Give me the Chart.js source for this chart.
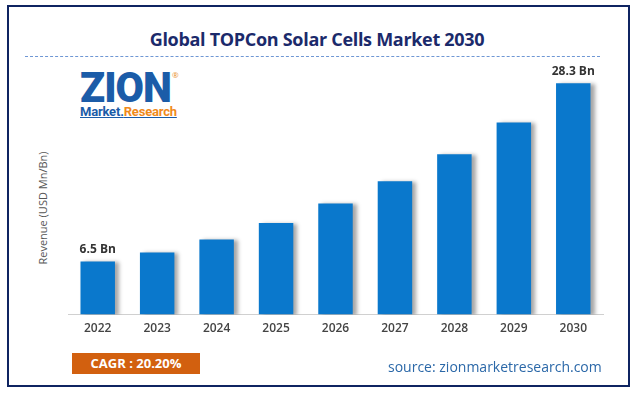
<!DOCTYPE html>
<html>
<head>
<meta charset="utf-8">
<script src="https://cdn.jsdelivr.net/npm/chart.js@4.4.1/dist/chart.umd.min.js"></script>
<style>
  html, body { margin:0; padding:0; background:#fff; }
  body { width:634px; height:394px; position:relative; overflow:hidden; font-family:"Open Sans", "Noto Sans", sans-serif; }
  #frame { position:absolute; left:7px; top:5px; width:619px; height:378px; border:2px solid #0f2461; box-sizing:content-box; }
  #title { position:absolute; left:0; width:634px; top:27px; text-align:center; font-weight:700; font-size:18px; color:#1b2a6b; letter-spacing:-0.3px; }
  #dash { position:absolute; left:25px; width:575px; top:56px; border-top:1.5px dashed #6f97d4; }
  #chartwrap { position:absolute; left:0; top:0; width:634px; height:394px; }
  #ytitle { position:absolute; left:42px; top:208px; transform:translate(-50%,-50%) rotate(-90deg); font-size:11px; color:#555; white-space:nowrap; }
  #cagr { position:absolute; left:72px; top:353px; width:128px; height:21px; background:#d2600f; color:#fff; font-weight:700; font-size:13px; line-height:21px; text-align:center; }
  #source { position:absolute; left:388px; top:357px; font-size:14px; color:#2b68a8; white-space:nowrap; transform-origin:left top; }
  #logo { position:absolute; left:80px; top:66px; }
  #zion { position:absolute; left:0; top:0; font-family:Roboto, sans-serif; font-weight:900; font-size:42px; color:#1b5ca8; letter-spacing:-1px; transform:scaleX(0.98); transform-origin:left top; line-height:44px; }
  #reg { position:absolute; left:92px; top:3px; font-size:8px; color:#e8902a; }
  #mr { position:absolute; left:0; top:38px; font-family:Roboto, sans-serif; font-weight:700; font-size:13px; white-space:nowrap; text-decoration:underline; text-decoration-color:#1b5ca8; letter-spacing:-0.2px; }
</style>
</head>
<body>
<div id="frame"></div>
<div id="title">Global TOPCon Solar Cells Market 2030</div>
<div id="dash"></div>
<div id="logo">
  <div id="zion">ZION</div>
  <div id="reg">®</div>
  <div id="mr"><span style="color:#1b5ca8">Market.</span><span style="color:#ef8a1c">Research</span></div>
</div>
<div id="ytitle">Revenue (USD Mn/Bn)</div>
<div id="chartwrap"><canvas id="c" width="634" height="394"></canvas></div>
<div id="cagr">CAGR : 20.20%</div>
<div id="source">source: zionmarketresearch.com</div>
<script>
const categories = ["2022","2023","2024","2025","2026","2027","2028","2029","2030"];
const revenue = [6.5, 7.6, 9.2, 11.2, 13.6, 16.3, 19.6, 23.5, 28.3];
const valueLabels = ["6.5 Bn", "", "", "", "", "", "", "", "28.3 Bn"];

const shadowPlugin = {
  id: 'barShadow',
  beforeDatasetDraw(chart) {
    const ctx = chart.ctx;
    ctx.save();
    ctx.shadowColor = 'rgba(0,0,0,0.35)';
    ctx.shadowOffsetX = 4;
    ctx.shadowOffsetY = 1;
    ctx.shadowBlur = 4;
  },
  afterDatasetDraw(chart) {
    chart.ctx.restore();
  }
};

const labelPlugin = {
  id: 'valueLabels',
  afterDatasetsDraw(chart) {
    const ctx = chart.ctx;
    const meta = chart.getDatasetMeta(0);
    ctx.save();
    ctx.font = '700 12px "Open Sans", sans-serif';
    ctx.fillStyle = '#333';
    ctx.textAlign = 'center';
    ctx.textBaseline = 'middle';
    meta.data.forEach((bar, i) => {
      if (valueLabels[i]) ctx.fillText(valueLabels[i], bar.x, bar.y - 12);
    });
    ctx.restore();
  }
};

new Chart(document.getElementById('c'), {
  type: 'bar',
  data: {
    labels: categories,
    datasets: [{
      data: revenue,
      backgroundColor: '#0a78cc',
      borderWidth: 0,
      barPercentage: 0.58,
      categoryPercentage: 1.0
    }]
  },
  options: {
    responsive: false,
    animation: false,
    events: [],
    layout: { padding: { left: 68, right: 31, top: 53, bottom: 51 } },
    plugins: { legend: { display: false }, tooltip: { enabled: false } },
    scales: {
      x: {
        grid: { display: false, drawTicks: false },
        border: { display: true, color: '#d0d0d0', width: 1 },
        ticks: { color: '#444', font: { family: '"Open Sans", sans-serif', size: 12, weight: '600' }, padding: 7, maxRotation: 0 }
      },
      y: {
        display: false,
        min: 0,
        max: 32
      }
    }
  },
  plugins: [shadowPlugin, labelPlugin]
});
</script>
</body>
</html>
